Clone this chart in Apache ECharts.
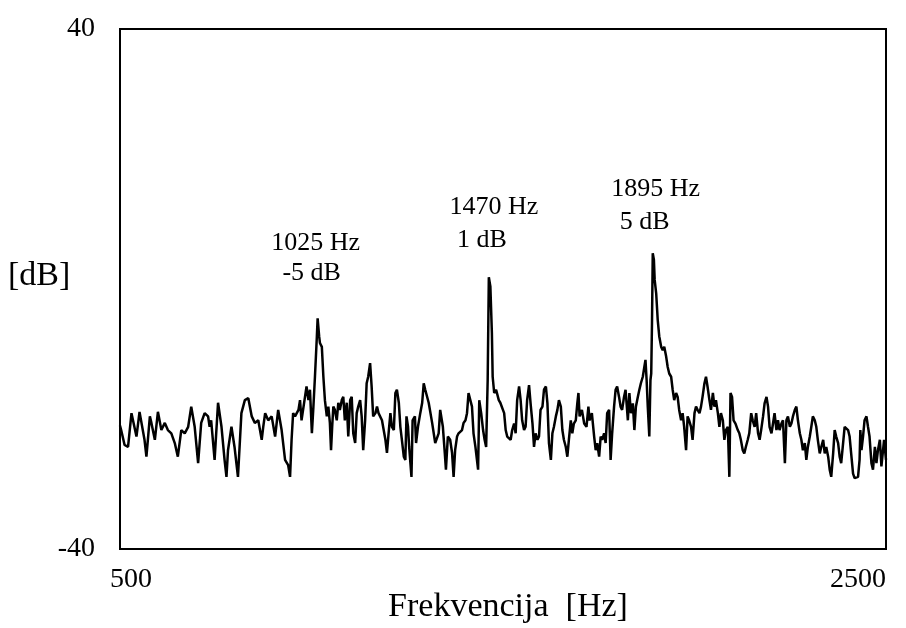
<!DOCTYPE html>
<html>
<head>
<meta charset="utf-8">
<script src="https://cdn.jsdelivr.net/npm/echarts@6/dist/echarts.min.js"></script>
<style>
html,body{margin:0;padding:0;background:#fff;}
#chart{width:906px;height:628px;}
</style>
</head>
<body>
<div id="chart"></div>
<script>
// Axis ranges / tick labels
const xTicks = [500, 2500];
const yTicks = [-40, 40];
const xTitle = 'Frekvencija  [Hz]';
const yTitle = '[dB]';

// Spectrum trace: [frequency Hz, level dB]
const spectrumPoints = [
[500,-21.0],[503,-21.7],[512,-24.0],[521,-24.3],[530,-19.1],[534,-18.9],[543,-22.7],[551,-18.9],[556,-19.1],[564,-23.2],[569,-25.8],[578,-19.6],[582,-20.6],[591,-23.2],[599,-18.9],[608,-21.7],[617,-20.6],[625,-21.7],[634,-22.2],[643,-23.7],[651,-25.8],[660,-21.7],[669,-22.2],[678,-21.2],[686,-18.1],[695,-21.2],[704,-26.8],[712,-20.6],[721,-19.1],[730,-19.6],[734,-21.2],[738,-20.2],[747,-26.3],[756,-17.5],[765,-21.2],[773,-26.3],[778,-28.9],[782,-24.8],[791,-21.2],[799,-24.3],[808,-28.9],[817,-19.1],[826,-17.1],
[835,-16.8],[844,-19.6],[852,-20.6],[861,-20.2],[870,-23.2],[874,-21.2],[879,-19.1],[887,-20.2],[896,-19.6],[905,-22.7],[909,-22.9],[913,-18.6],[918,-18.3],[922,-21.7],[931,-26.3],[939,-27.1],[944,-28.9],[948,-23.2],[952,-19.1],[957,-19.6],[966,-18.6],[970,-17.1],[974,-20.2],[983,-16.6],[987,-15.0],[992,-17.1],[996,-15.5],[1001,-22.2],[1005,-18.1],[1009,-13.5],[1014,-7.3],[1016,-4.5],[1020,-7.3],[1022,-8.3],[1027,-8.9],[1031,-13.5],[1035,-17.1],[1040,-19.6],[1044,-18.1],[1048,-20.6],[1051,-24.8],[1054,-21.2],[1057,-18.1],[1061,-18.6],[1066,-20.2],[1070,-17.5],[1074,-18.6],[1079,-17.1],[1083,-16.6],[1087,-20.2],[1092,-17.5],[1096,-22.7],[1101,-17.1],[1105,-16.6],[1109,-22.2],[1114,-23.7],[1118,-19.1],[1122,-18.1],[1127,-17.1],[1131,-19.6],[1135,-24.8],[1140,-20.2],[1144,-14.5],[1148,-13.5],[1153,-11.4],[1157,-15.0],[1161,-19.6],
[1167,-19.1],[1171,-18.1],[1175,-19.1],[1184,-20.2],[1193,-23.2],[1197,-25.2],[1202,-21.7],[1206,-19.1],[1210,-21.2],[1215,-21.7],[1219,-16.0],[1223,-15.5],[1228,-17.5],[1232,-21.2],[1236,-23.2],[1241,-25.8],[1245,-26.3],[1248,-19.6],[1252,-21.2],[1255,-24.3],[1261,-28.9],[1264,-20.2],[1270,-19.6],[1273,-23.7],[1278,-21.2],[1284,-19.1],[1289,-17.5],[1293,-14.5],[1297,-15.5],[1306,-17.5],[1315,-20.6],[1323,-23.7],[1332,-22.2],[1336,-18.6],[1343,-21.2],[1348,-25.2],[1351,-27.8],[1356,-22.7],[1362,-23.2],[1367,-25.2],[1371,-28.9],[1375,-24.8],[1380,-22.7],[1384,-22.2],[1393,-21.7],[1397,-20.6],[1402,-20.2],[1406,-19.1],[1410,-16.0],[1415,-16.0],[1419,-18.1],[1423,-22.2],[1428,-24.3],[1435,-27.8],[1438,-17.1],[1443,-19.1],[1448,-21.7],[1452,-23.2],[1456,-24.3],[1460,-14.0],[1463,1.8],[1467,0.4],[1471,-6.8],[1473,-13.5],[1477,-16.0],[1482,-15.5],[1489,-17.1],[1493,-17.5],
[1498,-17.6],[1503,-19.1],[1507,-21.7],[1511,-22.7],[1520,-23.2],[1524,-21.7],[1529,-20.7],[1533,-22.2],[1537,-17.1],[1542,-15.0],[1546,-17.1],[1550,-20.2],[1555,-21.7],[1559,-21.2],[1563,-17.1],[1568,-14.8],[1572,-17.6],[1577,-20.7],[1581,-24.3],[1585,-22.2],[1590,-23.2],[1594,-22.7],[1598,-18.6],[1603,-18.1],[1607,-15.5],[1612,-15.0],[1616,-17.6],[1620,-23.7],[1625,-26.3],[1629,-22.2],[1633,-21.2],[1638,-19.6],[1642,-18.6],[1646,-17.1],[1651,-18.1],[1655,-21.7],[1659,-23.2],[1664,-24.3],[1668,-25.8],[1672,-23.2],[1677,-20.2],[1681,-22.2],[1685,-20.7],[1690,-20.2],[1694,-17.6],[1697,-16.0],[1700,-19.6],[1706,-18.6],[1712,-20.7],[1718,-21.2],[1723,-18.1],[1726,-20.2],[1732,-19.1],[1738,-22.7],[1742,-24.8],[1746,-23.7],[1751,-25.8],[1755,-22.7],[1759,-23.2],[1764,-22.2],[1768,-23.7],[1772,-19.1],[1777,-18.6],[1781,-26.3],[1785,-22.2],[1790,-18.1],[1794,-15.5],[1798,-15.0],[1803,-16.6],[1807,-18.1],[1811,-18.6],[1816,-16.6],[1820,-15.5],
[1826,-20.2],[1830,-16.0],[1834,-19.1],[1839,-17.6],[1843,-21.7],[1847,-18.1],[1852,-16.6],[1856,-15.5],[1860,-14.5],[1865,-13.5],[1869,-12.0],[1872,-10.9],[1875,-14.0],[1878,-18.1],[1882,-22.7],[1885,-14.0],[1887,-13.0],[1889,-5.3],[1891,5.5],[1894,4.5],[1896,1.4],[1900,-0.7],[1904,-4.8],[1908,-7.3],[1913,-8.9],[1917,-9.4],[1921,-8.9],[1926,-10.4],[1930,-12.0],[1934,-13.0],[1939,-13.5],[1943,-15.5],[1947,-17.1],[1952,-16.0],[1956,-16.6],[1960,-18.6],[1965,-20.2],[1969,-19.1],[1973,-21.2],[1978,-24.8],[1982,-19.6],[1986,-20.2],[1991,-21.2],[1995,-23.2],[2000,-19.1],[2004,-18.1],[2008,-18.6],[2013,-19.1],[2017,-18.1],[2021,-16.6],[2026,-14.5],[2030,-13.5],[2034,-15.0],[2039,-17.1],[2043,-18.6],[2048,-16.0],[2052,-18.1],[2056,-17.1],[2061,-19.1],[2065,-21.2],[2069,-19.1],[2074,-20.2],[2078,-23.2],[2082,-21.7],[2087,-21.2],[2091,-28.9],[2094,-16.0],[2098,-16.6],[2102,-20.2],[2107,-20.7],[2113,-21.7],[2117,-22.2],[2121,-23.2],[2126,-24.8],[2130,-25.3],[2134,-24.3],[2139,-23.2],[2143,-22.2],[2148,-19.1],[2152,-20.2],
[2157,-21.2],[2161,-19.1],[2166,-22.2],[2170,-23.2],[2174,-21.7],[2179,-19.6],[2183,-17.6],[2188,-16.6],[2192,-18.1],[2196,-21.2],[2201,-22.2],[2205,-20.7],[2209,-19.1],[2214,-21.7],[2218,-20.2],[2222,-21.7],[2227,-20.7],[2231,-20.2],[2236,-26.8],[2240,-20.2],[2244,-19.6],[2249,-21.2],[2253,-20.7],[2257,-19.6],[2262,-18.6],[2266,-18.1],[2270,-20.2],[2275,-22.2],[2279,-23.2],[2283,-24.8],[2288,-23.7],[2292,-26.3],[2296,-24.3],[2301,-22.7],[2305,-21.2],[2309,-19.6],[2314,-20.2],[2318,-21.2],[2322,-23.2],[2327,-25.3],[2331,-24.3],[2336,-23.2],[2340,-25.3],[2344,-24.3],[2349,-25.8],[2353,-27.8],[2357,-28.9],[2362,-25.3],[2366,-21.7],[2370,-22.7],[2375,-23.7],[2379,-25.8],[2383,-26.8],[2388,-23.7],[2392,-21.2],[2396,-21.2],[2401,-21.7],[2405,-22.7],[2409,-25.3],[2414,-28.4],[2418,-29.1],[2422,-29.1],[2427,-28.9],[2431,-26.3],[2433,-21.7],[2436,-24.8],[2440,-22.7],[2444,-20.2],[2449,-19.6],[2453,-21.2],[2457,-22.7],[2462,-26.8],[2466,-27.8],[2471,-24.3],[2475,-26.8],[2479,-24.8],[2484,-23.2],[2488,-27.3],[2495,-23.2],[2500,-26.3]
];

// Peak annotations: peak position (Hz, dB) and the two text lines
const peakFreqs = [1016, 1463, 1891];
const peakLevels = [-4.5, 1.8, 5.5];
const peakFreqText = ['1025 Hz', '1470 Hz', '1895 Hz'];
const peakLevelText = ['-5 dB', '1 dB', '5 dB'];

const FONT = '"Liberation Serif", "DejaVu Serif", serif';
const freqOffsets = [[-2, -75], [5, -70], [3, -64]];
const levelOffsets = [[-6, -45], [-7, -37], [-8, -31]];

const markData = [];
peakFreqs.forEach((f, i) => {
  markData.push({
    coord: [f, peakLevels[i]], value: peakFreqText[i],
    label: { offset: freqOffsets[i], formatter: peakFreqText[i] }
  });
  markData.push({
    coord: [f, peakLevels[i]], value: peakLevelText[i],
    label: { offset: levelOffsets[i], formatter: peakLevelText[i] }
  });
});

const chart = echarts.init(document.getElementById('chart'), null, { renderer: 'canvas' });
chart.setOption({
  animation: false,
  backgroundColor: '#ffffff',
  textStyle: { fontFamily: FONT, color: '#000' },
  grid: {
    left: 120, right: 20, top: 29, bottom: 79,
    containLabel: false, outerBoundsMode: 'none',
    show: true, borderColor: '#000', borderWidth: 2, backgroundColor: 'transparent'
  },
  xAxis: {
    type: 'value', min: xTicks[0], max: xTicks[1], interval: xTicks[1] - xTicks[0],
    axisLine: { show: true, onZero: false, lineStyle: { color: '#000', width: 2 } },
    axisTick: { show: false },
    splitLine: { show: false },
    axisLabel: {
      fontFamily: FONT, fontSize: 28, color: '#000', margin: 17,
      alignMinLabel: 'center', alignMaxLabel: 'right',
      formatter: function (v) { return v === xTicks[0] ? '{lo|' + v + '}' : String(v); },
      rich: { lo: { fontFamily: FONT, fontSize: 28, color: '#000', padding: [0, 0, 0, 22] } }
    },
    name: xTitle, nameLocation: 'middle', nameGap: 41, nameMoveOverlap: false,
    nameTextStyle: { fontFamily: FONT, fontSize: 34, color: '#000', padding: [0, 0, 0, 10] }
  },
  yAxis: {
    type: 'value', min: yTicks[0], max: yTicks[1], interval: yTicks[1] - yTicks[0],
    axisLine: { show: true, onZero: false, lineStyle: { color: '#000', width: 2 } },
    axisTick: { show: false },
    splitLine: { show: false },
    axisLabel: {
      fontFamily: FONT, fontSize: 28, color: '#000', margin: 25,
      formatter: function (v) { return String(v); },
      padding: [0, 0, 10, 0]
    }
  },
  graphic: [{
    type: 'text', left: 8, top: 259,
    style: { text: yTitle, font: '34px ' + FONT, fill: '#000' }
  }],
  series: [{
    type: 'line',
    data: spectrumPoints,
    showSymbol: false,
    symbol: 'none',
    lineStyle: { color: '#000', width: 2.5 },
    z: 3,
    markPoint: {
      symbol: 'circle', symbolSize: 0,
      label: { show: true, position: 'inside', fontFamily: FONT, fontSize: 26, color: '#000' },
      data: markData
    }
  }]
});
</script>
</body>
</html>
